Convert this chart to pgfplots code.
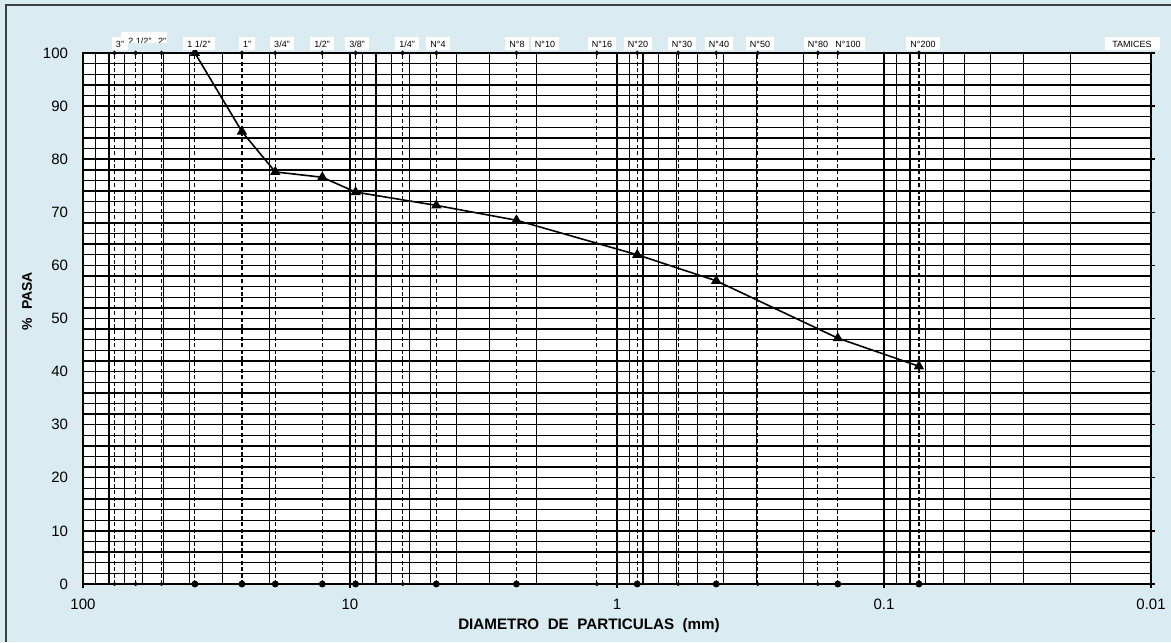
\documentclass[border=0pt]{standalone}
\usepackage{pgfplots}
\pgfplotsset{compat=1.18}
\usepackage{fontspec}
\setmainfont{Liberation Sans}
\definecolor{bgblue}{RGB}{218,235,242}
\begin{document}
\begin{tikzpicture}[x=0.5pt,y=0.5pt]
\useasboundingbox (0,0) rectangle (1171,642);
\fill[bgblue] (0,0) rectangle (1171,642);
\draw[line width=0.8pt, black!75] (6,0) -- (6,637) -- (1171,637);
\begin{axis}[
  at={(41.5pt,29pt)}, anchor=south west,
  width=534pt, height=265.5pt, scale only axis,
  xmode=log, x dir=reverse, xmin=0.01, xmax=100,
  ymin=0, ymax=100,
  clip=false,
  axis background/.style={fill=white},
  xtick={0.01,0.1,1,10,100},
  xticklabels={0.01,0.1,1,10,100},
  minor xtick={0.02,0.03,0.04,0.05,0.06,0.07,0.08,0.09,0.2,0.3,0.4,0.5,0.6,0.7,0.8,0.9,2,3,4,5,6,7,8,9,20,30,40,50,60,70,80,90},
  ytick={0,10,...,100},
  minor ytick={2,4,6,8,12,14,16,18,22,24,26,28,32,34,36,38,42,44,46,48,52,54,56,58,62,64,66,68,72,74,76,78,82,84,86,88,92,94,96,98},
  grid=both,
  major grid style={black, line width=0.7pt},
  minor grid style={black, line width=0.7pt},
  xtick pos=left, ytick pos=right, yticklabel pos=left,
  tick align=outside, major tick length=2pt, minor tick length=0pt,
  tick style={black, line width=0.7pt},
  axis line style={black, line width=1pt},
  ticklabel style={font=\fontsize{7.5}{9}\selectfont},
  yticklabel style={xshift=-2pt},
  xticklabel style={yshift=-2pt},
  /pgf/number format/assume math mode=true,
]
% dashed sieve lines with dots on top
\addplot[ycomb, black, line width=0.6pt, dash pattern=on 2pt off 1.2pt, mark=*, mark size=0.8pt, mark options={solid}]
  coordinates {(76.2,100)(63.5,100)(50.8,100)(38.1,100)(25.4,100)(19.05,100)(12.7,100)(9.525,100)(6.35,100)(4.75,100)(2.38,100)(1.19,100)(0.84,100)(0.59,100)(0.425,100)(0.297,100)(0.177,100)(0.149,100)(0.074,100)};
% small dots at the base
\addplot[only marks, black, mark=*, mark size=0.8pt]
  coordinates {(76.2,0)(63.5,0)(50.8,0)(6.35,0)(1.19,0)(0.59,0)(0.297,0)(0.177,0)};
% big dots at the base
\addplot[only marks, black, mark=*, mark size=1.5pt]
  coordinates {(38.1,0)(25.4,0)(19.05,0)(12.7,0)(9.525,0)(4.75,0)(2.38,0)(0.84,0)(0.425,0)(0.149,0)(0.074,0)};
% grading curve
\addplot[black, line width=0.8pt, mark=triangle*, mark size=2.2pt]
  coordinates {(38.1,100)(25.4,85.2)(19.05,77.6)(12.7,76.6)(9.525,73.8)(4.75,71.3)(2.38,68.5)(0.84,62.0)(0.425,57.1)(0.149,46.3)(0.074,41.0)};
\end{axis}
% sieve labels
\tikzset{sv/.style={fill=white, inner xsep=2pt, inner ysep=0pt, minimum height=6.5pt, font=\fontsize{4.5}{5}\selectfont}}
\begin{scope}
\clip (121,599.3) rectangle (167,610.3);
\fill[white] (121,599.3) rectangle (167,610.3);
\node[font=\fontsize{4.5}{5}\selectfont] at (140,600.5) {2 1/2"};
\node[font=\fontsize{4.5}{5}\selectfont] at (162,600.5) {2"};
\end{scope}
\node[sv] at (120,598) {3"};
\node[sv] at (199,598) {1 1/2"};
\node[sv] at (247,598) {1"};
\node[sv] at (282,598) {3/4"};
\node[sv] at (322,598) {1/2"};
\node[sv] at (357,598) {3/8"};
\node[sv] at (407,598) {1/4"};
\node[sv] at (438,598) {N°4};
\node[sv] at (517,598) {N°8};
\node[sv] at (545,598) {N°10};
\node[sv] at (602,598) {N°16};
\node[sv] at (638,598) {N°20};
\node[sv] at (682,598) {N°30};
\node[sv] at (719,598) {N°40};
\node[sv] at (760,598) {N°50};
\node[sv] at (818,598) {N°80};
\node[sv] at (848,598) {N°100};
\node[sv] at (923,598) {N°200};
\node[sv, minimum width=27.5pt] at (1132,598) {TAMICES};
% axis titles
\node[font=\bfseries\fontsize{7.6}{9}\selectfont] at (589,16) {DIAMETRO\ \ DE\ \ PARTICULAS\ \ (mm)};
\node[rotate=90, font=\bfseries\fontsize{7}{8}\selectfont] at (27,341) {\%\ \ PASA};
\end{tikzpicture}
\end{document}
